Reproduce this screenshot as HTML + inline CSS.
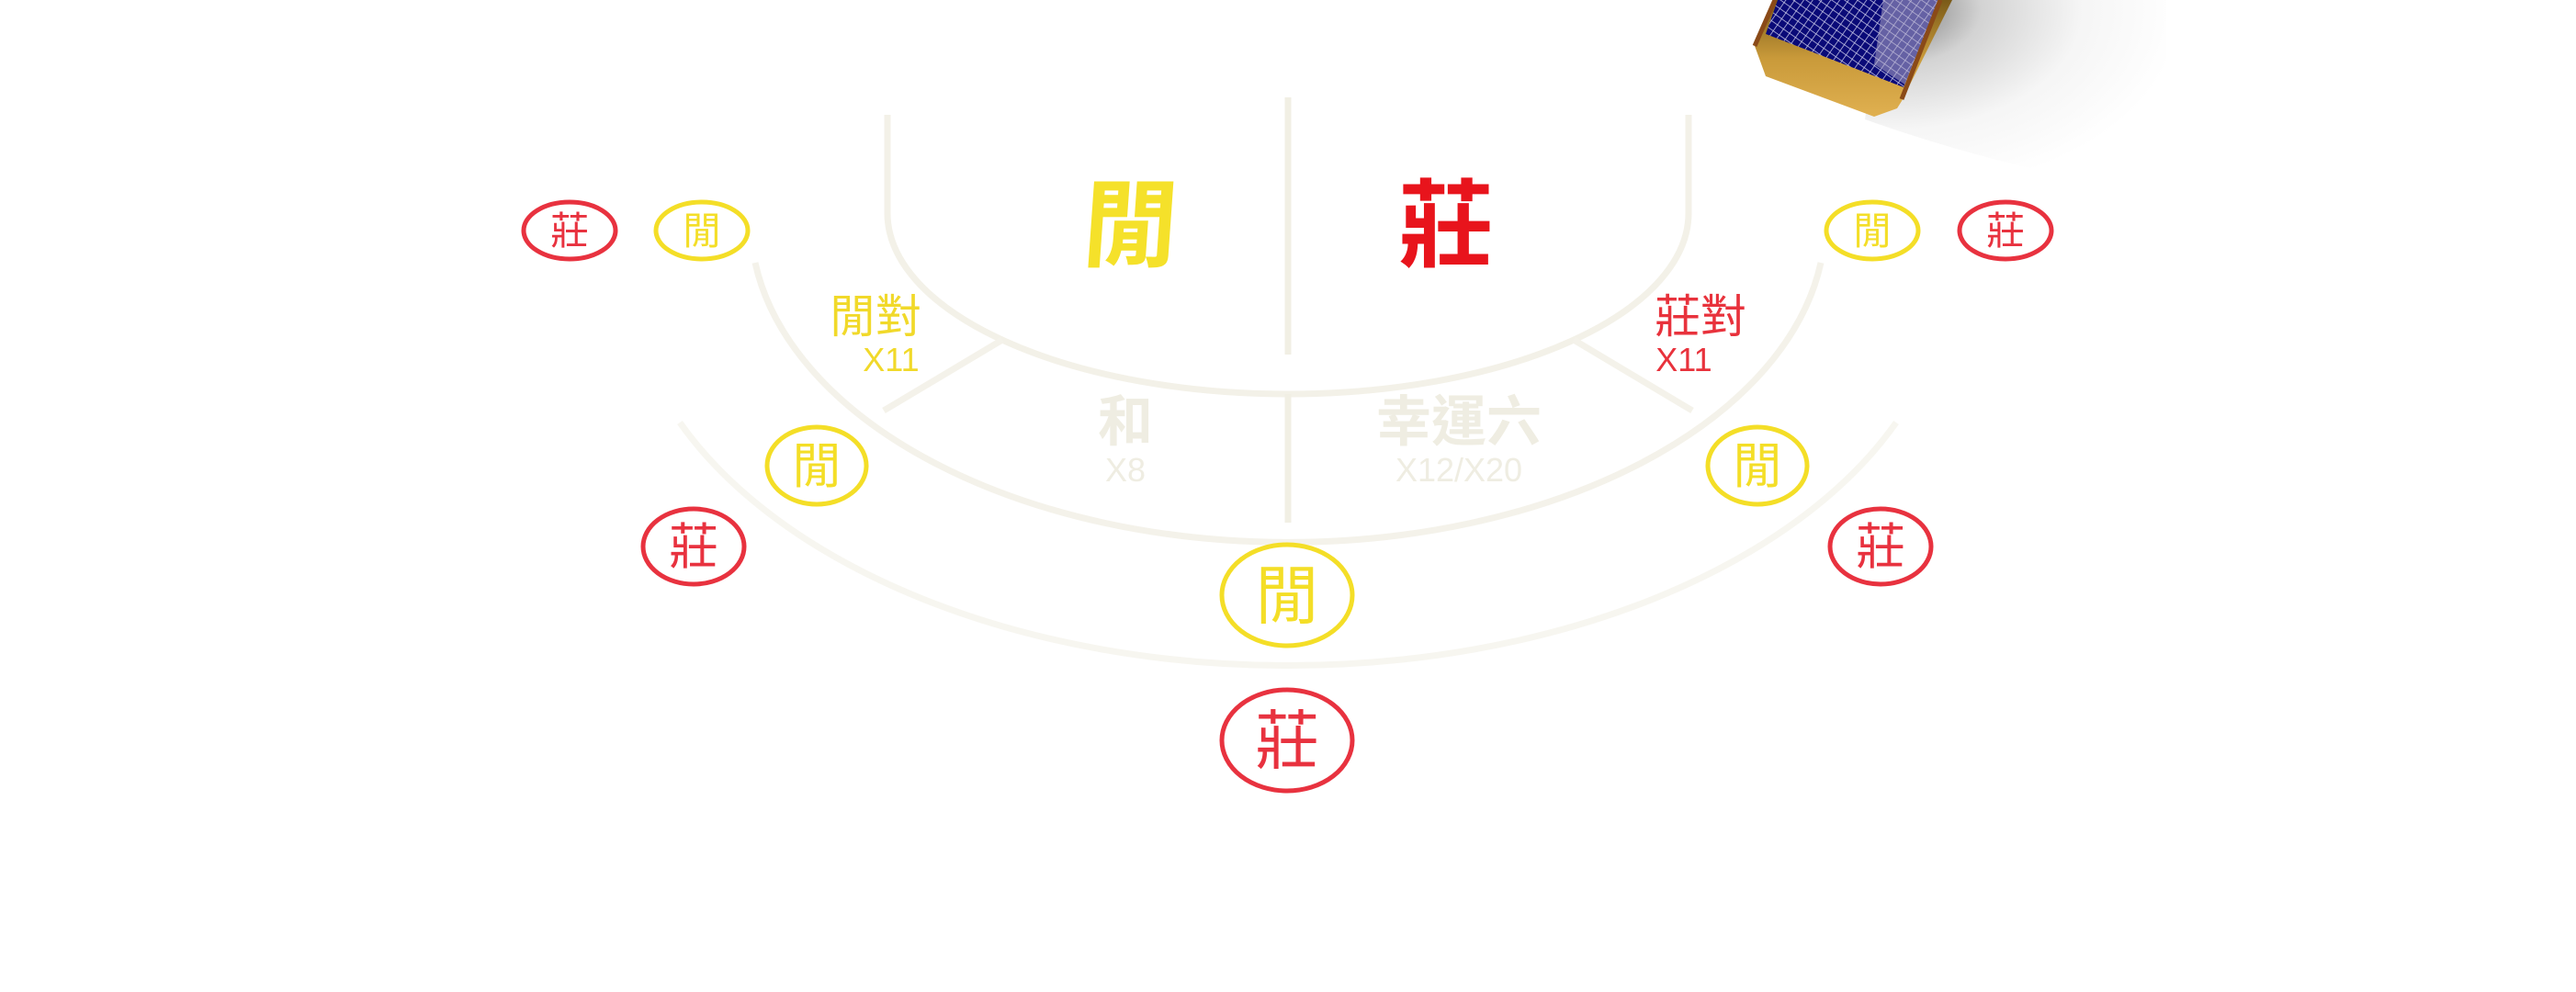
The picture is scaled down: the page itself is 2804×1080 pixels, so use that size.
<!DOCTYPE html>
<html><head><meta charset="utf-8"><style>
html,body{margin:0;padding:0;background:#fff;width:2804px;height:1080px;overflow:hidden}
svg text{font-family:"Liberation Sans","Noto Sans CJK TC",sans-serif;text-anchor:middle}
</style></head><body>
<svg width="2804" height="1080" viewBox="0 0 2804 1080" xmlns="http://www.w3.org/2000/svg">
<defs>
<radialGradient id="sh" cx="0.1" cy="0.05" r="0.95">
<stop offset="0" stop-color="#555"/><stop offset="0.3" stop-color="#c8c8c8"/><stop offset="0.65" stop-color="#f3f3f3"/><stop offset="1" stop-color="#fff"/></radialGradient>
<linearGradient id="gold" x1="0" y1="0" x2="0" y2="1"><stop offset="0" stop-color="#7a5a18"/><stop offset="0.5" stop-color="#c99a3a"/><stop offset="1" stop-color="#e0b050"/></linearGradient>
<pattern id="pt" width="8" height="8" patternUnits="userSpaceOnUse" patternTransform="rotate(35)"><rect width="8" height="8" fill="#0a0a78"/><path d="M0 0H8M0 0V8" stroke="#c8c8e8" stroke-width="1.5"/></pattern>
</defs>
<path d="M2050 0 L2358 0 L2358 210 Q2200 190 2030 130 Z" fill="url(#sh)" opacity="0.8"/>
<polygon points="1930,0 2125,0 2070,110 2065,118 2040,127 1922,83 1910,50" fill="url(#gold)"/>
<polygon points="1935,0 2110,0 2072,95 1922,37" fill="url(#pt)"/>
<polygon points="2050,0 2110,0 2075,93 2040,70" fill="#b0aac8" opacity="0.55"/>
<path d="M1932 0 L1910 50" stroke="#8a4a18" stroke-width="5"/>
<path d="M2112 0 L2070 108" stroke="#8a4a18" stroke-width="5"/>

<g fill="none" stroke="#f1efe4" stroke-width="7">
<path d="M966 125 L966 232 A436 197 0 0 0 1838 232 L1838 125" stroke="#f3f1e8"/>
<path d="M822 286 A585 350 0 0 0 1982 286" stroke="#f4f2ea"/>
<path d="M740 460 A720 436 0 0 0 2064 460" stroke="#f7f6f0"/>
<path d="M1402 106 L1402 386"/>
<path d="M1402 429 L1402 569"/>
<path d="M1091 370 L962 447" stroke="#f4f2ea"/>
<path d="M1713 370 L1842 447" stroke="#f4f2ea"/>
</g>

<text x="1228" y="282" font-size="104" font-weight="bold" fill="#f5e12a" transform="skewX(-4) translate(20,0)">閒</text>
<text x="1574" y="282" font-size="104" font-weight="bold" fill="#e8141c">莊</text>
<text x="953" y="362" font-size="50" fill="#f1d92a">閒對</text>
<text x="970" y="404" font-size="36" fill="#f1d92a">X11</text>
<text x="1851" y="362" font-size="50" fill="#e8323c">莊對</text>
<text x="1833" y="404" font-size="36" fill="#e8323c">X11</text>
<text x="1225" y="480" font-size="60" font-weight="bold" fill="#efede2">和</text>
<text x="1225" y="524" font-size="36" fill="#efede2">X8</text>
<text x="1588" y="480" font-size="60" font-weight="bold" fill="#efede2">幸運六</text>
<text x="1588" y="524" font-size="36" fill="#efede2">X12/X20</text>

<g stroke-width="5" fill="none">
<ellipse cx="620" cy="251" rx="50" ry="31" stroke="#e8323f"/>
<ellipse cx="764" cy="251" rx="50" ry="31" stroke="#f4de27"/>
<ellipse cx="2038" cy="251" rx="50" ry="31" stroke="#f4de27"/>
<ellipse cx="2183" cy="251" rx="50" ry="31" stroke="#e8323f"/>
<ellipse cx="889" cy="507" rx="54" ry="42" stroke="#f4de27"/>
<ellipse cx="755" cy="595" rx="55" ry="41" stroke="#e8323f"/>
<ellipse cx="1913" cy="507" rx="54" ry="42" stroke="#f4de27"/>
<ellipse cx="2047" cy="595" rx="55" ry="41" stroke="#e8323f"/>
<ellipse cx="1401" cy="648" rx="71" ry="55" stroke="#f4de27"/>
<ellipse cx="1401" cy="806" rx="71" ry="55" stroke="#e8323f"/>
</g>
<g>
<text x="620" y="266" font-size="42" fill="#e8323f">莊</text>
<text x="764" y="266" font-size="42" fill="#f4de27">閒</text>
<text x="2038" y="266" font-size="42" fill="#f4de27">閒</text>
<text x="2183" y="266" font-size="42" fill="#e8323f">莊</text>
<text x="889" y="526" font-size="54" fill="#f4de27">閒</text>
<text x="755" y="614" font-size="54" fill="#e8323f">莊</text>
<text x="1913" y="526" font-size="54" fill="#f4de27">閒</text>
<text x="2047" y="614" font-size="54" fill="#e8323f">莊</text>
<text x="1401" y="673" font-size="70" fill="#f4de27">閒</text>
<text x="1401" y="831" font-size="70" fill="#e8323f">莊</text>
</g>
</svg>
</body></html>
